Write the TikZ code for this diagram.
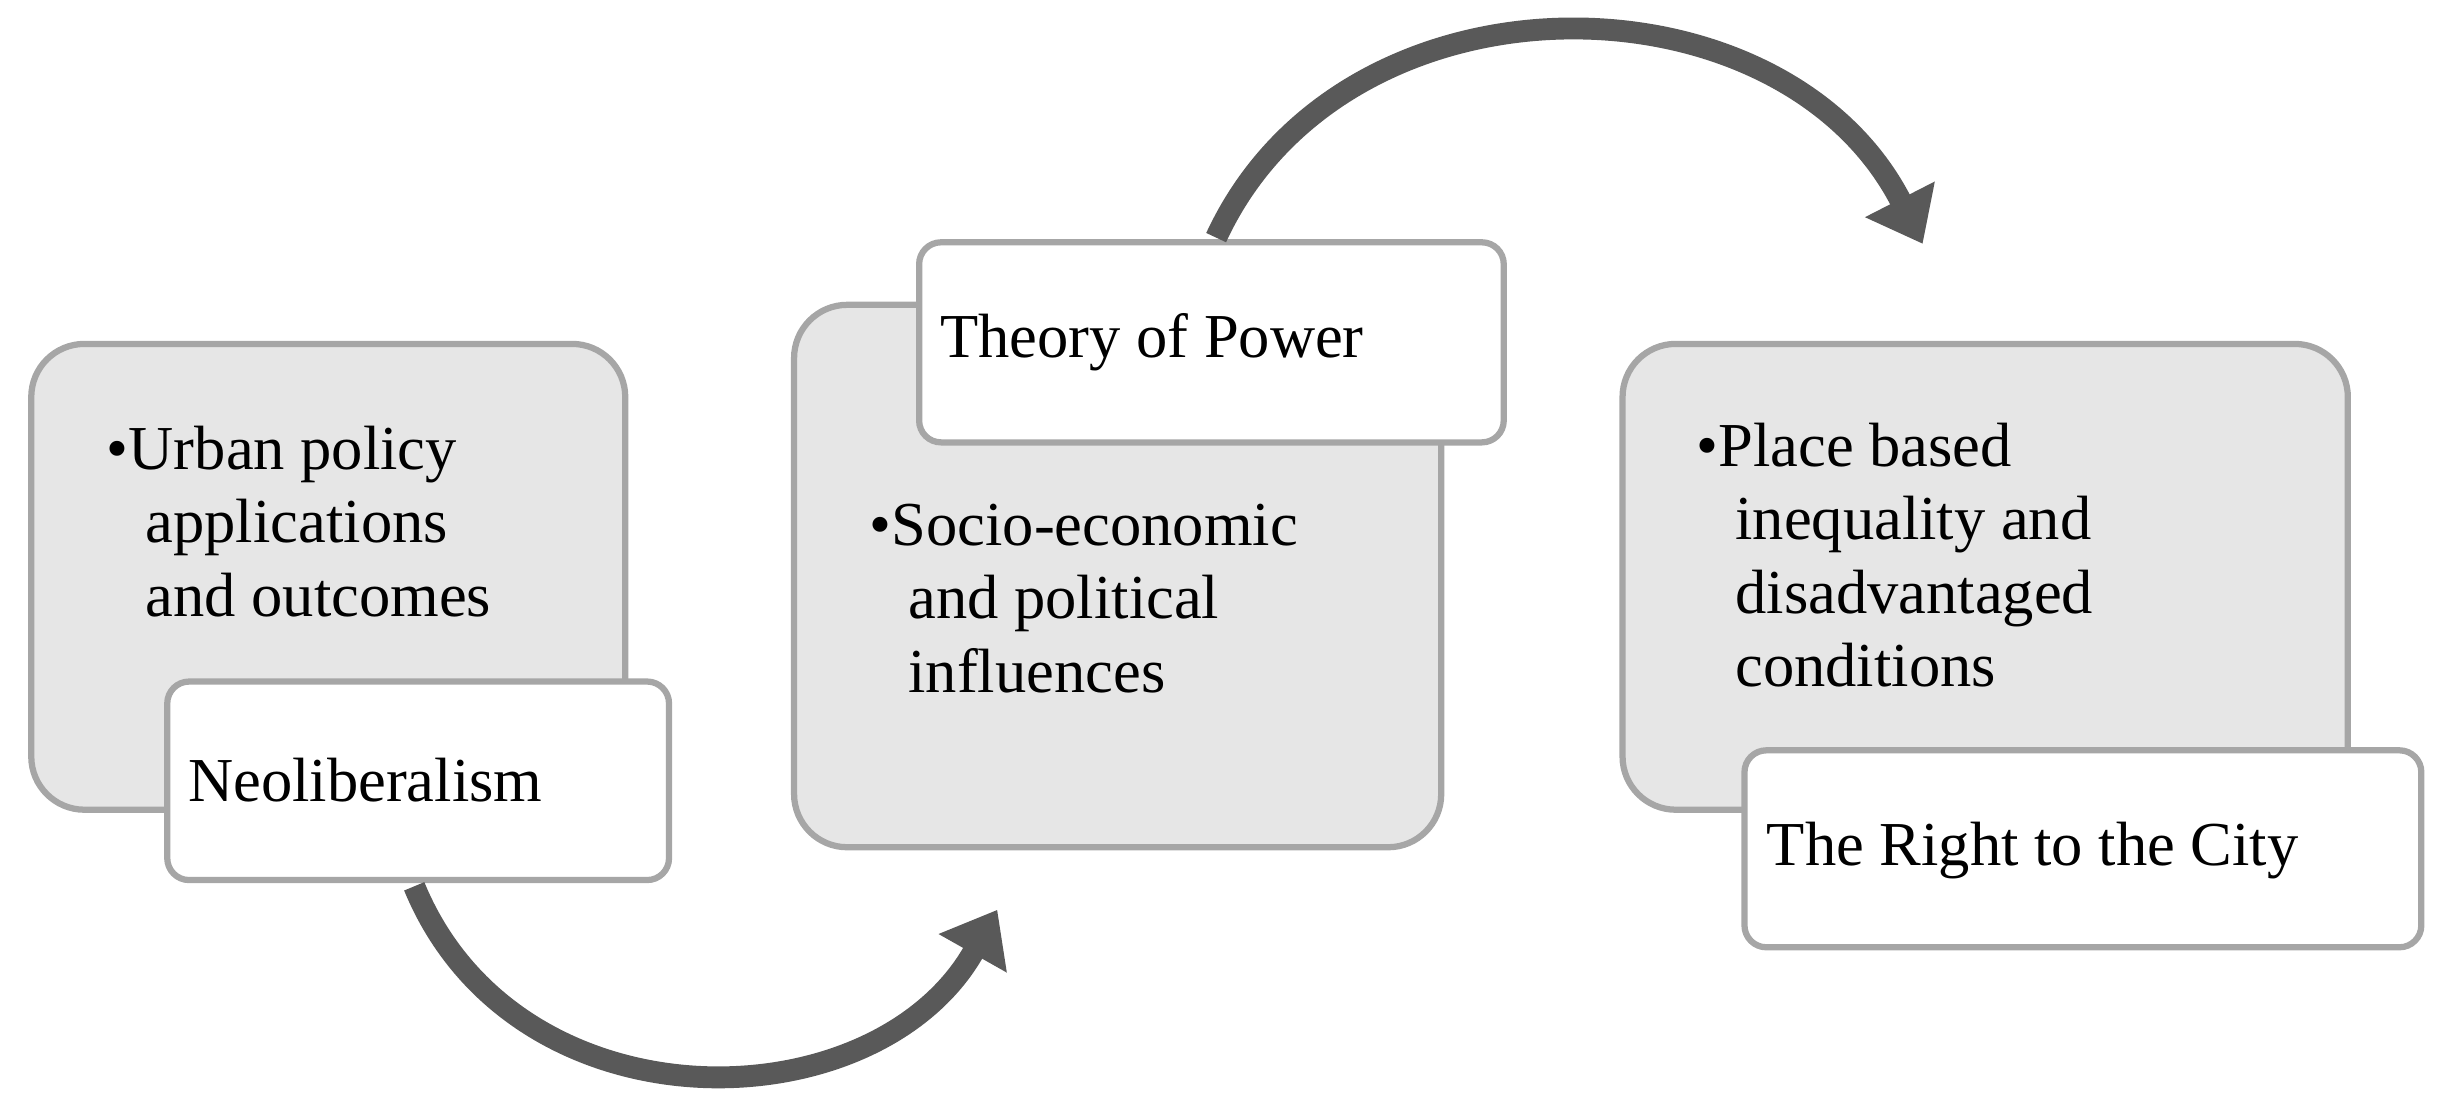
\documentclass[tikz,border=0pt]{standalone}
\usepackage{fontspec}
\setmainfont{Liberation Serif}
\usetikzlibrary{arrows.meta}
\definecolor{bgray}{HTML}{E6E6E6}
\definecolor{lgray}{HTML}{A6A6A6}
\definecolor{agray}{HTML}{595959}
\begin{document}
\begin{tikzpicture}[x=0.5pt,y=-0.5pt,
  graybox/.style={draw=lgray,line width=2pt,fill=bgray,rounded corners=17pt},
  whitebox/.style={draw=lgray,line width=2pt,fill=white,rounded corners=7pt},
  txt/.style={font=\fontsize{20}{23.5}\selectfont,align=left,anchor=north west,inner sep=0pt},
  flow/.style={draw=agray,line width=7pt,-{Triangle[length=16pt,width=24pt]}}]
\useasboundingbox (0,0) rectangle (1568,703);
\draw[graybox] (20,220) rectangle (400,518);
\node[txt] (t1) at (68,272) {•Urban policy\\\hspace{0.62em}applications\\\hspace{0.62em}and outcomes};
\draw[whitebox] (107,436) rectangle (428,563);
\node[txt,anchor=west] (n1) at (120,499) {Neoliberalism};
\draw[graybox] (508,195) rectangle (922,542);
\node[txt] (t2) at (556,322) {•Socio-economic\\\hspace{0.62em}and political\\\hspace{0.62em}influences};
\draw[whitebox] (588,155) rectangle (962,283);
\node[txt,anchor=west] (n2) at (601,219) {Theory of Power};
\draw[graybox] (1038,220) rectangle (1502,518);
\node[txt] (t3) at (1085,270) {•Place based\\\hspace{0.62em}inequality and\\\hspace{0.62em}disadvantaged\\\hspace{0.62em}conditions};
\draw[whitebox] (1116,480) rectangle (1549,606);
\node[txt,anchor=west] (n3) at (1130,544) {The Right to the City};
\coordinate (a1) at (265,567);
\coordinate (a2) at (638,582);
\coordinate (b1) at (778,152);
\coordinate (b2) at (1230,156);
\draw[flow] (a1) .. controls (330,725) and (560,720) .. (a2);
\draw[flow] (b1) .. controls (860,-25) and (1140,-20) .. (b2);
\end{tikzpicture}
\end{document}
